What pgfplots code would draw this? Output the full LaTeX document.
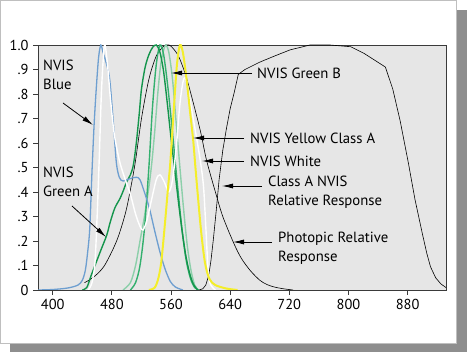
\documentclass[border=0pt]{standalone}
\usepackage{pgfplots}
\pgfplotsset{compat=1.18}
\usepackage{fontspec}
\setmainfont{PT Sans}
\usetikzlibrary{arrows.meta}
\definecolor{bg}{HTML}{E6E6E6}
\definecolor{axc}{HTML}{3A3A3A}
\definecolor{nblue}{HTML}{6E9FD0}
\definecolor{ngreenA}{HTML}{14954C}
\definecolor{ngreenM}{HTML}{33B06E}
\definecolor{ngreenB}{HTML}{8CCFAA}
\definecolor{nyellow}{HTML}{F4EE2A}
\definecolor{shadow}{HTML}{8E8E8E}
\begin{document}
\begin{tikzpicture}
\fill[white] (0bp,0bp) rectangle (467bp,352bp);
\fill[shadow] (10bp,0bp) rectangle (467bp,342bp);
\fill[white] (0bp,8bp) rectangle (456bp,352bp);
\draw[gray!50, line width=0.5bp] (0.25bp,8.25bp) rectangle (455.75bp,351.75bp);
\begin{axis}[
  at={(38bp,62bp)}, anchor=south west,
  scale only axis, width=408bp, height=245bp,
  xmin=380, xmax=932, ymin=0, ymax=1,
  axis background/.style={fill=bg},
  axis line style={axc, line width=0.9bp},
  tick style={axc, line width=0.9bp},
  tick align=outside, major tick length=5bp,
  xtick={400,480,560,640,720,800,880},
  ytick={0,0.1,0.2,0.3,0.4,0.5,0.6,0.7,0.8,0.9,1.0},
  yticklabels={0,.1,.2,.3,.4,.5,.6,.7,.8,.9,1.0},
  xtick pos=bottom, ytick pos=left,
  /pgf/number format/assume math mode=true,
  /pgf/number format/1000 sep={},
  ticklabel style={font=\fontsize{14.5}{16}\selectfont, text=black},
  yticklabel style={xshift=-1bp},
  xticklabel style={yshift=-1bp},
  clip=true,
]
% Photopic relative response
\addplot[black, line width=0.6bp, smooth] coordinates {
(443,0.03) (450,0.042) (460,0.065) (470,0.1) (482,0.17) (490,0.23) (500,0.335) (511,0.51) (520,0.7) (530,0.86) (540,0.955) (550,0.995) (555,1.0) (560,0.995) (570,0.955) (580,0.875) (590,0.765) (600,0.645) (608,0.53) (620,0.4) (630,0.3) (645,0.19) (655,0.13) (667,0.08) (680,0.04) (690,0.022) (700,0.012) (712,0.005) (725,0.0)};
% Class A NVIS relative response
\addplot[black, line width=0.6bp] coordinates {
(598,0) (603,0.005) (607,0.02) (611,0.06) (614,0.12) (617,0.2) (621,0.32) (625,0.45) (630,0.57) (635,0.66) (640,0.74) (645,0.8) (651,0.88) (660,0.9) (680,0.93) (700,0.955) (721,0.98) (748,1.0) (775,1.0) (803,0.993) (821,0.966) (850,0.91) (860,0.82) (870,0.69) (881,0.52) (890,0.37) (900,0.23) (906,0.15) (911,0.095) (918,0.05) (925,0.025) (932,0.01)};
% NVIS Green B (light)
\addplot[ngreenB, line width=1.4bp, smooth] coordinates {
(495,0) (505,0.03) (512,0.1) (518,0.2) (524,0.3) (530,0.42) (534,0.52) (538,0.65) (542,0.8) (546,0.92) (550,0.98) (553,1.0) (557,0.97) (562,0.86) (567,0.68) (572,0.5) (577,0.33) (582,0.18) (587,0.08) (592,0.02) (597,0)};
% NVIS Green (medium)
\addplot[ngreenM, line width=1.4bp, smooth] coordinates {
(505,0) (512,0.03) (518,0.1) (524,0.25) (530,0.5) (535,0.75) (540,0.92) (545,1.0) (550,0.96) (556,0.82) (562,0.64) (568,0.45) (574,0.27) (580,0.13) (586,0.05) (592,0.01) (598,0)};
% NVIS Green A (dark)
\addplot[ngreenA, line width=1.4bp, smooth] coordinates {
(440,0) (446,0.01) (452,0.06) (459,0.115) (466,0.17) (473,0.224) (478,0.28) (484,0.335) (491,0.374) (496,0.41) (500,0.442) (505,0.47) (509,0.51) (513,0.6) (517,0.72) (520,0.82) (525,0.91) (530,0.96) (535,0.99) (540,1.0) (545,0.97) (550,0.89) (555,0.76) (560,0.62) (565,0.49) (570,0.36) (575,0.24) (580,0.14) (585,0.07) (590,0.025) (596,0)};
% NVIS Blue
\addplot[nblue, line width=1.3bp, smooth] coordinates {
(380,0) (400,0.002) (420,0.008) (434,0.02) (440,0.04) (444,0.08) (447,0.15) (450,0.25) (453,0.48) (456,0.68) (459,0.83) (462,0.95) (465,1.0) (468,0.97) (472,0.93) (477,0.86) (482,0.68) (486,0.52) (490,0.46) (495,0.445) (505,0.455) (513,0.46) (518,0.45) (525,0.39) (531,0.33) (538,0.24) (545,0.155) (552,0.085) (559,0.035) (566,0.012) (576,0)};
% NVIS White
\addplot[white, line width=1.4bp, smooth] coordinates {
(448,0) (453,0.03) (457,0.11) (460,0.3) (463,0.55) (466,0.82) (470,1.0) (474,0.92) (478,0.78) (483,0.64) (490,0.53) (497,0.46) (505,0.39) (512,0.31) (518,0.26) (522,0.245) (527,0.28) (533,0.36) (540,0.45) (545,0.47) (551,0.44) (557,0.4) (562,0.45) (567,0.58) (572,0.76) (577,0.86) (581,0.85) (586,0.77) (594,0.63) (600,0.52) (604,0.42) (607,0.26) (610,0.09) (613,0.025) (620,0)};
% NVIS Yellow Class A
\addplot[nyellow, line width=2bp, smooth] coordinates {
(530,0) (538,0.01) (543,0.05) (547,0.12) (552,0.28) (556,0.42) (559,0.52) (564,0.75) (568,0.92) (572,1.0) (576,0.97) (581,0.86) (586,0.72) (590,0.61) (593,0.5) (597,0.36) (601,0.23) (606,0.11) (612,0.045) (620,0.02) (635,0.006) (650,0)};
\end{axis}
% annotations (positions in bp from the lower left corner)
\tikzset{lab/.style={font=\fontsize{14.8}{18.5}\selectfont, inner sep=0pt, anchor=west, align=left},
  arr/.style={black, line width=0.8bp, -{Latex[length=11bp,width=5bp]}}}
\node[lab, anchor=north west] at (43bp,292bp) {NVIS\\Blue};
\draw[arr] (63bp,249bp) -- (93bp,227bp);
\node[lab, anchor=north west] at (43bp,185bp) {NVIS\\Green A};
\draw[arr] (72bp,146bp) -- (106bp,115bp);
\node[lab] at (257bp,279bp) {NVIS Green B};
\draw[arr] (252bp,279bp) -- (171bp,279bp);
\node[lab] at (250bp,214bp) {NVIS Yellow Class A};
\draw[arr] (244bp,214bp) -- (193bp,214bp);
\node[lab] at (250bp,191bp) {NVIS White};
\draw[arr] (244bp,191bp) -- (202bp,191bp);
\node[lab, anchor=north west] at (268bp,176bp) {Class A NVIS\\Relative Response};
\draw[arr] (262bp,166bp) -- (222bp,166bp);
\node[lab, anchor=north west] at (278bp,120bp) {Photopic Relative\\Response};
\draw[arr] (272bp,110bp) -- (233bp,110bp);
\end{tikzpicture}
\end{document}
